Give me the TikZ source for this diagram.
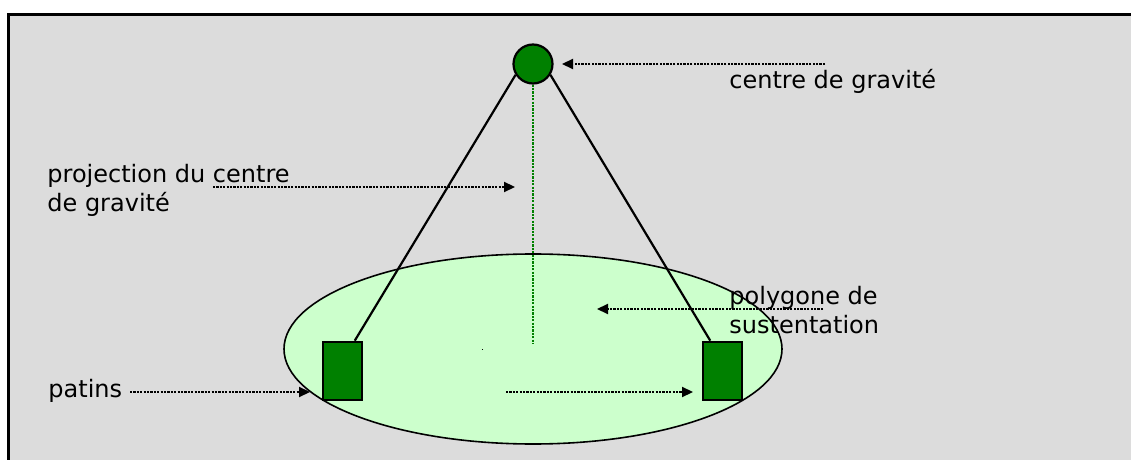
\documentclass[tikz,border=0pt]{standalone}
\usepackage{fontspec}
\setmainfont{DejaVu Sans}
\usetikzlibrary{arrows.meta,shapes.geometric}
\definecolor{fond}{HTML}{DCDCDC}
\definecolor{vert}{RGB}{0,128,0}
\definecolor{vertclair}{HTML}{CCFFCC}

\begin{document}
\begin{tikzpicture}[x=0.5pt,y=-0.5pt,
    fleche/.style={line width=1.1pt,dash pattern=on 1.1pt off 0.6pt,-{Triangle[length=5.5pt,width=5pt]}},
    texte/.style={inner sep=0pt,align=left,font=\fontsize{12pt}{14.5pt}\selectfont},
    patin/.style={draw,line width=1.3pt,fill=vert,minimum width=19.5pt,minimum height=29pt,inner sep=0pt}]
  \useasboundingbox (0,0) rectangle (1131,460);
  \fill[fond] (8.8,14.2) rectangle (1131,460);
  \draw[line width=1.5pt] (8.8,460) -- (8.8,14.2) -- (1131,14.2);
  % polygone de sustentation
  \node[ellipse,draw,line width=0.8pt,fill=vertclair,minimum width=249pt,minimum height=95pt,inner sep=0pt] (poly) at (533,349) {};
  \fill (481.5,348.5) rectangle (483,350);
  % patins et centre de gravite
  \node[patin] (pl) at (342.5,371) {};
  \node[patin] (pr) at (722.5,371) {};
  \node[circle,draw,line width=1.1pt,fill=vert,minimum size=19.5pt,inner sep=0pt] (cg) at (533,64) {};
  \draw[line width=1.1pt] (cg.212) -- (pl.68);
  \draw[line width=1.1pt] (cg.-32) -- (pr.112);
  \coordinate (pied) at (533,344);
  \draw[vert,line width=1.1pt,dash pattern=on 1.1pt off 0.6pt] (cg.south) -- (pied);
  % fleches
  \coordinate (a1) at (825,64);  \coordinate (b1) at (562,64);
  \coordinate (a2) at (213,187); \coordinate (b2) at (515,187);
  \coordinate (a3) at (823,309); \coordinate (b3) at (597,309);
  \coordinate (a4) at (130,392); \coordinate (b4) at (310,392);
  \coordinate (a5) at (506,392); \coordinate (b5) at (693,392);
  \foreach \i in {1,...,5}
    \draw[fleche] (a\i) -- (b\i);
  % textes
  \node[texte,anchor=base west] (lcg) at (729,89) {centre de gravité};
  \node[texte,anchor=base west] (lproj) at (47,212) {projection du centre\\de gravité};
  \node[texte,anchor=base west] (lpoly) at (729,333) {polygone de\\sustentation};
  \node[texte,anchor=base west] (lpat) at (48,397) {patins};
\end{tikzpicture}
\end{document}
